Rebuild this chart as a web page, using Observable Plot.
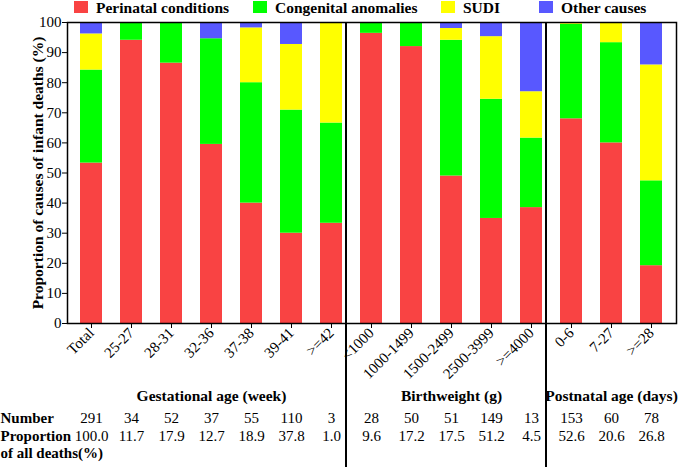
<!DOCTYPE html>
<html><head><meta charset="utf-8">
<script src="https://cdn.jsdelivr.net/npm/d3@7"></script>
<script src="https://cdn.jsdelivr.net/npm/@observablehq/plot@0.6"></script>
<style>
body{margin:0;background:#fff;}
#legend{height:16px;position:relative;font-weight:bold;font-size:15.5px;font-family:"Liberation Serif","Times New Roman",Times,serif;color:#000;}
.item{position:absolute;top:-0.5px;line-height:16px;white-space:nowrap;}
.sw{position:absolute;left:0;top:1px;width:14px;height:12px;}
.lab{position:absolute;left:22px;top:0;}
</style></head><body>
<div id="legend"></div>
<div id="chart"></div>
<script>
// ---- data ----
const categories = ["Total","25-27","28-31","32-36","37-38","39-41",">=42",
  "<1000","1000-1499","1500-2499","2500-3999",">=4000","0-6","7-27",">=28"];
const causes = ["Perinatal conditions","Congenital anomalies","SUDI","Other causes"];
const perinatal  = [53.3, 94.1, 86.5, 59.5, 40.0, 30.0, 33.3, 96.4, 92.0, 49.0, 34.9, 38.5, 68.0, 60.0, 19.2];
const congenital = [30.9,  5.9, 13.5, 35.1, 40.0, 40.9, 33.3,  3.6,  8.0, 45.1, 39.6, 23.1, 31.4, 33.3, 28.2];
const sudi       = [12.0,  0.0,  0.0,  0.0, 18.2, 21.8, 33.4,  0.0,  0.0,  3.9, 20.8, 15.4,  0.6,  6.7, 38.5];
const other      = [ 3.8,  0.0,  0.0,  5.4,  1.8,  7.3,  0.0,  0.0,  0.0,  2.0,  4.7, 23.0,  0.0,  0.0, 14.1];
const colors = ["#F94343","#00FF00","#FFFF00","#5858FF"];
const groupLabels = ["Gestational age (week)","Birthweight (g)","Postnatal age (days)"];
const groupCenters = ["32-36","1500-2499","7-27"];
const dividerAfter = [">=42", ">=4000"];
const numbers = ["291","34","52","37","55","110","3","28","50","51","149","13","153","60","78"];
const proportions = ["100.0","11.7","17.9","12.7","18.9","37.8","1.0","9.6","17.2","17.5","51.2","4.5","52.6","20.6","26.8"];
const yTicks = [0,10,20,30,40,50,60,70,80,90,100];
const yLabel = "Proportion of causes of infant deaths (%)";

// ---- legend ----
const legendX = [74, 253, 441, 539];
const lg = document.getElementById("legend");
causes.forEach((c,i)=>{
  const d = document.createElement("div");
  d.className="item"; d.style.left=legendX[i]+"px";
  d.innerHTML = `<span class="sw" style="background:${colors[i]}"></span><span class="lab">${c}</span>`;
  lg.appendChild(d);
});

// ---- chart ----
const series = [perinatal, congenital, sudi, other];
const data = categories.flatMap((cat,i)=>causes.map((cause,j)=>({cat, cause, value: series[j][i]})));
const F = '"Liberation Serif", "Times New Roman", Times, serif';
const chart = Plot.plot({
  width:685, height:454, marginTop:6, marginLeft:67, marginRight:9, marginBottom:147,
  style:{fontFamily:F, fontSize:"15px", color:"#000", background:"#fff", overflow:"visible"},
  x:{domain:categories, paddingInner:0.44, paddingOuter:0.28, label:null},
  y:{domain:[0,100], label:null},
  color:{domain:causes, range:colors},
  marks:[
    Plot.barY(data, {x:"cat", y:"value", fill:"cause"}),
    Plot.axisY({ticks:yTicks, tickSize:5, tickPadding:1, label:null, fontSize:15, fontFamily:F}),
    Plot.axisX({tickRotate:-45, tickSize:5, tickPadding:2, label:null, fontSize:15, fontFamily:F}),
    Plot.frame({stroke:"#000", strokeWidth:1.5}),
    Plot.ruleX(dividerAfter, {x:d=>d, dx:14.5, insetBottom:-144, stroke:"#000", strokeWidth:2}),
    Plot.text([yLabel], {frameAnchor:"left", textAnchor:"middle", rotate:-90, dx:-29, text:d=>d, fontWeight:"bold", fontSize:15.5, fontFamily:F}),
    Plot.text(groupLabels, {x:(d,i)=>groupCenters[i], text:d=>d, frameAnchor:"bottom", lineAnchor:"bottom", dy:77, fontWeight:"bold", fontSize:15.5, fontFamily:F}),
    Plot.text(categories, {x:d=>d, text:(d,i)=>numbers[i], frameAnchor:"bottom", lineAnchor:"bottom", dy:99, fontSize:15, fontFamily:F}),
    Plot.text(categories, {x:d=>d, text:(d,i)=>proportions[i], frameAnchor:"bottom", lineAnchor:"bottom", dy:117, fontSize:15, fontFamily:F}),
    Plot.text(["Number"], {frameAnchor:"bottom-left", textAnchor:"start", lineAnchor:"bottom", dx:-67, dy:99, text:d=>d, fontWeight:"bold", fontSize:15, fontFamily:F}),
    Plot.text(["Proportion"], {frameAnchor:"bottom-left", textAnchor:"start", lineAnchor:"bottom", dx:-67, dy:117, text:d=>d, fontWeight:"bold", fontSize:15, fontFamily:F}),
    Plot.text(["of all deaths(%)"], {frameAnchor:"bottom-left", textAnchor:"start", lineAnchor:"bottom", dx:-67, dy:134, text:d=>d, fontWeight:"bold", fontSize:15, fontFamily:F})
  ]
});
document.getElementById("chart").appendChild(chart);
</script>
</body></html>
